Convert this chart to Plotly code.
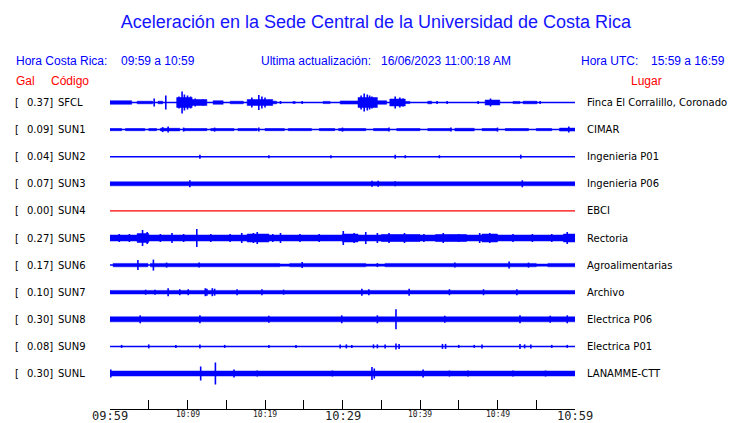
import plotly.graph_objects as go

# ---------------- data ----------------
STATIONS = ["SFCL", "SUN1", "SUN2", "SUN3", "SUN4", "SUN5", "SUN6", "SUN7", "SUN8", "SUN9", "SUNL"]
PEAK_GAL = [0.37, 0.09, 0.04, 0.07, 0.00, 0.27, 0.17, 0.10, 0.30, 0.08, 0.30]
PLACES = ["Finca El Corralillo, Coronado", "CIMAR", "Ingenieria P01", "Ingenieria P06", "EBCI",
          "Rectoria", "Agroalimentarias", "Archivo", "Electrica P06", "Electrica P01", "LANAMME-CTT"]
TRACE_COLORS = ["#0000ff", "#0000ff", "#0000ff", "#0000ff", "#ff0000", "#0000ff",
                "#0000ff", "#0000ff", "#0000ff", "#0000ff", "#0000ff"]

# time axis: minutes after 09:59 (window of 60 minutes)
TICK_MINUTES = [0, 5, 10, 15, 20, 25, 30, 35, 40, 45, 50, 55, 60]
TICK_LABELS = ["09:59", "", "10:09", "", "10:19", "", "10:29", "", "10:39", "", "10:49", "", "10:59"]
TICK_BIG = [True, False, False, False, False, False, True, False, False, False, False, False, True]
WINDOW_MIN = 60

# envelope segments (start min, end min, half amplitude) and spikes (min, half amplitude)
BAND_SFCL = [(0, 2.8, 1.8), (3.5, 5.5, 1.3), (6.2, 6.8, 1.3), (8.6, 10.6, 5), (10.6, 12.5, 3),
             (13.3, 14.6, 1.8), (15.5, 17.2, 1.3), (17.7, 21.0, 3), (21.0, 21.5, 1.3), (23.6, 23.9, 1),
             (27.5, 28.4, 1.1), (29.7, 32.0, 1.6), (32.0, 34.5, 5), (34.5, 35.7, 1.8), (36.1, 38.1, 3.5),
             (38.1, 38.7, 1.1), (41.0, 41.5, 1.3), (48.4, 50.3, 2.5), (52.0, 52.9, 1.1), (53.3, 55.1, 1.3)]
SPIKE_SFCL = [(5.7, 4), (7.2, 7), (8.9, 6), (9.3, 11), (9.6, 8), (10.0, 7), (10.4, 6), (11.0, 4),
              (12.0, 3), (18.3, 5), (19.2, 7.5), (19.6, 6), (20.0, 5), (22.0, 1.5), (24.8, 1.5),
              (32.4, 7), (32.8, 9), (33.2, 8), (33.5, 7), (33.8, 6), (36.8, 6), (37.4, 5), (37.8, 4),
              (42.2, 1.5), (43.5, 1.5), (47.5, 1.5), (49.1, 4), (55.5, 1.5)]

BAND_SUN1 = [(0, 1.5, 1.1), (2, 4.5, 1.1), (5, 6, 1.1), (6.5, 9, 1.3), (9.5, 12.5, 1.1), (13, 16, 1.1),
             (16.5, 19, 1.1), (20, 22.5, 1.1), (23, 26, 1.1), (27, 29, 1.1), (29.5, 33, 1.1),
             (34, 36, 1.1), (37, 40, 1.1), (41, 44, 1.1), (44.5, 47, 1.3), (48, 50, 1.1), (51, 54, 1.1),
             (55, 57, 1.1), (58, 60, 1.5)]
SPIKE_SUN1 = [(6.8, 2.5), (7.5, 3), (9.5, 2), (13.5, 2), (19.2, 2), (30, 2), (36, 2), (44, 2), (50, 2),
              (59.2, 3)]

BAND_SUN2 = []
SPIKE_SUN2 = [(11.6, 2), (20.5, 1.5), (28.5, 1.5), (36.8, 2), (38.1, 1.5), (42.5, 1.5), (53.0, 2)]

BAND_SUN3 = [(0, 60, 2)]
SPIKE_SUN3 = [(10.3, 3.5), (33.8, 3), (34.6, 3), (36.8, 2.5), (53.2, 3.5)]

BAND_SUN4 = []
SPIKE_SUN4 = []

BAND_SUN5 = [(0, 60, 3), (3.5, 5, 4.5), (17.7, 20.5, 4), (30, 32, 4), (35, 40, 3.5), (42, 46, 3.5),
             (48, 50, 4), (58.5, 60, 4)]
SPIKE_SUN5 = [(1.2, 4), (2.5, 4), (4.2, 8), (4.8, 6), (6.5, 4), (8.0, 5), (9.5, 4), (11.2, 9),
              (13.0, 4), (15.5, 4), (17.0, 5), (18.5, 5), (19, 6), (21, 4), (22, 5), (24.5, 4),
              (27.0, 4), (30.1, 7), (31.5, 5), (33, 6), (34.5, 5), (36, 5), (38, 5), (40.5, 4),
              (43, 5), (45, 4), (47.7, 5), (49.0, 5), (52, 4), (54.5, 4), (57, 4), (59, 6)]

BAND_SUN6 = [(0.4, 4.9, 1.7), (5.2, 21.9, 1.7), (21.9, 23.2, 1.1), (23.2, 33, 1.7), (33, 35.5, 1.1),
             (35.5, 55, 1.7), (55, 56.5, 1.1), (56.5, 60, 1.7)]
SPIKE_SUN6 = [(3.6, 5), (5.6, 5.5), (7.3, 2.5), (11.5, 2.5), (24.8, 3), (34.5, 2), (44.5, 2.5),
              (51.5, 3.5), (54, 2.5)]

BAND_SUN7 = [(0, 60, 1.8)]
SPIKE_SUN7 = [(4.6, 2.5), (5.8, 2.5), (7.5, 4), (9.0, 3), (10.1, 3), (12.3, 4), (12.5, 3.5),
              (13.2, 4), (13.5, 3.5), (16.4, 3), (19.6, 3), (22.4, 2.5), (32.5, 3.5), (33.4, 3),
              (38.6, 3.5), (43.8, 3), (48.2, 3), (52.5, 3)]

BAND_SUN8 = [(0, 60, 2.5)]
SPIKE_SUN8 = [(3.9, 4), (11.6, 4), (20.5, 3.5), (29.9, 4), (34.5, 4), (36.9, 10), (43.2, 3.5),
              (52.9, 4), (56.8, 3.5), (59, 4)]

BAND_SUN9 = []
SPIKE_SUN9 = [(1.5, 1.5), (5, 2), (8.5, 1.5), (11.6, 2), (14.8, 1.5), (20.5, 1.5), (24, 1.5),
              (29.7, 2), (30.5, 2), (31.2, 1.5), (34, 2), (34.5, 2), (35.5, 2), (36.9, 3), (37.3, 2.5),
              (42.9, 2.5), (43.3, 2.5), (45, 1.5), (47, 1.5), (48, 2), (52.9, 2.5), (53.5, 2),
              (54.3, 2), (57, 1.5), (59, 1.5)]

BAND_SUNL = [(0, 60, 2.5)]
SPIKE_SUNL = [(0.1, 4), (11.7, 7), (13.6, 11), (16, 4), (19, 3), (28.7, 3), (33.8, 6.5), (34.1, 5),
              (40.4, 4), (43.8, 3), (46.2, 3), (52, 3), (56.2, 3)]

BANDS = [BAND_SFCL, BAND_SUN1, BAND_SUN2, BAND_SUN3, BAND_SUN4, BAND_SUN5,
         BAND_SUN6, BAND_SUN7, BAND_SUN8, BAND_SUN9, BAND_SUNL]
SPIKES = [SPIKE_SFCL, SPIKE_SUN1, SPIKE_SUN2, SPIKE_SUN3, SPIKE_SUN4, SPIKE_SUN5,
          SPIKE_SUN6, SPIKE_SUN7, SPIKE_SUN8, SPIKE_SUN9, SPIKE_SUNL]

# ---------------- layout geometry ----------------
W, H = 740, 423
PL, PR, PT, PB = 110, 575, 85, 409   # plot area in pixels
ROW = 27.1                           # row spacing (pixel units on y axis)
ROW0 = 17.5                          # first row centre below top of plot area


def px(x):
    return (x - PL) / (PR - PL)


def py(y):
    return (PB - y) / (PB - PT)


fig = go.Figure()

for i, st in enumerate(STATIONS):
    c = i * ROW
    col = TRACE_COLORS[i]
    # baseline
    fig.add_trace(go.Scatter(x=[0, WINDOW_MIN], y=[c, c], mode="lines",
                             line=dict(color=col, width=1.2 if i == 4 else 1.5),
                             hoverinfo="skip", showlegend=False))
    # envelope band
    if BANDS[i]:
        bx, by = [], []
        for t0, t1, h in BANDS[i]:
            bx += [t0, t1, t1, t0, t0, None]
            by += [c - h, c - h, c + h, c + h, c - h, None]
        fig.add_trace(go.Scatter(x=bx, y=by, mode="lines", fill="toself", fillcolor=col,
                                 line=dict(color=col, width=0.5),
                                 hoverinfo="skip", showlegend=False))
    # spikes
    if SPIKES[i]:
        sx, sy = [], []
        for t, h in SPIKES[i]:
            sx += [t, t, None]
            sy += [c - h, c + h, None]
        fig.add_trace(go.Scatter(x=sx, y=sy, mode="lines", line=dict(color=col, width=1.6),
                                 hoverinfo="skip", showlegend=False))

ann = []
BLUE = "#0000ff"
RED = "#ff0000"
F_HEAD = "Liberation Sans, Arial, sans-serif"
F_LAB = "DejaVu Sans, sans-serif"


def text(x, y, s, color="black", size=10, family=F_LAB, anchor="left"):
    ann.append(dict(x=px(x), y=py(y), xref="paper", yref="paper", text=s, showarrow=False,
                    xanchor=anchor, yanchor="middle", font=dict(color=color, size=size, family=family)))


# header rows
text(14, 61, "Hora Costa Rica:", BLUE, 12, F_HEAD)
text(119, 61, "09:59 a 10:59", BLUE, 12, F_HEAD)
text(259, 61, "Ultima actualización:", BLUE, 12, F_HEAD)
text(379, 61, "16/06/2023 11:00:18 AM", BLUE, 12, F_HEAD)
text(579, 61, "Hora UTC:", BLUE, 12, F_HEAD)
text(649, 61, "15:59 a 16:59", BLUE, 12, F_HEAD)
text(14, 81, "Gal", RED, 12, F_HEAD)
text(49, 81, "Código", RED, 12, F_HEAD)
text(629, 81, "Lugar", RED, 12, F_HEAD)

# station labels
for i, st in enumerate(STATIONS):
    yc = PT + ROW0 + i * ROW
    text(13, yc, "[", "black", 10)
    text(55, yc, f"{PEAK_GAL[i]:.2f}]", "black", 10, anchor="right")
    text(56, yc, st, "black", 10)
    text(585, yc, PLACES[i], "black", 10)

# time tick labels
for t, lab, big in zip(TICK_MINUTES, TICK_LABELS, TICK_BIG):
    if not lab:
        continue
    ann.append(dict(x=t, y=0, xref="x", yref="paper", text=lab, showarrow=False,
                    xanchor="center", yanchor="middle", yshift=-7 if big else -5,
                    font=dict(color="#222222", size=12 if big else 8,
                              family="DejaVu Sans Mono, monospace")))

fig.update_layout(
    width=W, height=H,
    margin=dict(l=PL, r=W - PR, t=PT, b=H - PB, autoexpand=False),
    paper_bgcolor="white", plot_bgcolor="white",
    title=dict(text="Aceleración en la Sede Central de la Universidad de Costa Rica",
               x=376 / W, xanchor="center", y=1 - 22 / H, yanchor="middle",
               font=dict(color="#1414ff", size=18, family=F_HEAD)),
    annotations=ann,
    hovermode=False,
    showlegend=False,
    xaxis=dict(range=[0, WINDOW_MIN], tickvals=TICK_MINUTES, ticktext=[""] * len(TICK_MINUTES),
               ticks="inside", ticklen=9, tickwidth=1, tickcolor="black",
               showline=True, linecolor="black", linewidth=1, showgrid=False, zeroline=False,
               fixedrange=True),
    yaxis=dict(range=[PB - PT - ROW0, -ROW0], visible=False, showgrid=False, zeroline=False,
               fixedrange=True),
)

fig.write_html("out.html", config={"displayModeBar": False},
               post_script="document.body.style.margin='0';")
